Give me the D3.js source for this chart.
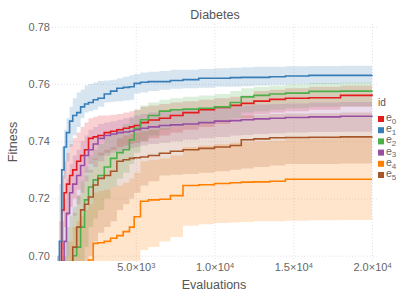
<!DOCTYPE html>
<html>
<head>
<meta charset="utf-8">
<script src="https://cdn.jsdelivr.net/npm/d3@7"></script>
<style>
  body { margin: 0; background: #fff; }
  text { font-family: "Liberation Sans", Arial, sans-serif; }
</style>
</head>
<body>
<svg width="407" height="305"></svg>
<script>
// evaluation checkpoints (shared by every run)
const evals = [0, 150, 300, 450, 600, 800, 1000, 1250, 1500, 1750, 2000, 2300, 2600, 3000, 3400, 3800, 4200,
  4600, 4900, 5300, 5800, 6500, 7200, 8000, 9000, 10000, 11000, 11700, 12500, 13500, 14500, 16000, 18000, 20000];

// e0 (red)
const e0Mean = [0.68, 0.695, 0.716, 0.722, 0.725, 0.728, 0.730, 0.733, 0.735, 0.737, 0.741, 0.7415, 0.742, 0.743, 0.7435, 0.744, 0.7445,
  0.745, 0.7455, 0.7465, 0.7474, 0.748, 0.749, 0.750, 0.751, 0.7518, 0.7525, 0.7532, 0.754, 0.7546, 0.755, 0.7552, 0.756, 0.7564];
const e0Hi = [0.70, 0.712, 0.728, 0.733, 0.736, 0.739, 0.741, 0.743, 0.745, 0.7465, 0.748, 0.7485, 0.749, 0.749, 0.7492, 0.7495, 0.750,
  0.7505, 0.751, 0.752, 0.7525, 0.753, 0.7535, 0.754, 0.7545, 0.755, 0.7555, 0.756, 0.7575, 0.758, 0.7585, 0.759, 0.7595, 0.760];
const e0Lo = [0.66, 0.678, 0.702, 0.710, 0.714, 0.717, 0.720, 0.723, 0.726, 0.729, 0.732, 0.7335, 0.735, 0.736, 0.737, 0.738, 0.7385,
  0.739, 0.7395, 0.740, 0.741, 0.742, 0.743, 0.744, 0.745, 0.746, 0.747, 0.748, 0.7495, 0.750, 0.7505, 0.751, 0.752, 0.7525];

// e1 (blue)
const e1Mean = [0.68, 0.705, 0.730, 0.738, 0.743, 0.747, 0.749, 0.750, 0.752, 0.753, 0.7535, 0.7545, 0.755, 0.7565, 0.7575, 0.7585, 0.7588,
  0.759, 0.7602, 0.7606, 0.7608, 0.7608, 0.7612, 0.7615, 0.762, 0.762, 0.7622, 0.7623, 0.7623, 0.7625, 0.7628, 0.763, 0.763, 0.7631];
const e1Hi = [0.70, 0.725, 0.738, 0.744, 0.748, 0.752, 0.755, 0.757, 0.758, 0.7595, 0.760, 0.7605, 0.761, 0.7612, 0.7615, 0.762, 0.7625,
  0.763, 0.7635, 0.764, 0.7643, 0.7645, 0.765, 0.765, 0.7652, 0.7655, 0.7657, 0.7658, 0.766, 0.766, 0.7662, 0.7663, 0.7664, 0.7665];
const e1Lo = [0.66, 0.685, 0.715, 0.727, 0.733, 0.738, 0.742, 0.745, 0.748, 0.750, 0.7505, 0.751, 0.752, 0.7535, 0.7538, 0.754, 0.7542,
  0.7545, 0.7567, 0.757, 0.7575, 0.758, 0.7583, 0.7585, 0.7587, 0.759, 0.759, 0.7592, 0.7595, 0.7597, 0.760, 0.760, 0.7602, 0.7603];

// e2 (green)
const e2Mean = [0.67, 0.675, 0.68, 0.686, 0.693, 0.698, 0.700, 0.703, 0.710, 0.7195, 0.724, 0.7265, 0.728, 0.731, 0.734, 0.736, 0.737,
  0.7405, 0.7445, 0.7475, 0.749, 0.7505, 0.751, 0.7512, 0.7515, 0.752, 0.7535, 0.7555, 0.756, 0.7565, 0.7568, 0.7574, 0.7575, 0.7577];
const e2Hi = [0.69, 0.695, 0.70, 0.705, 0.710, 0.714, 0.717, 0.721, 0.726, 0.731, 0.735, 0.737, 0.739, 0.7415, 0.743, 0.7445, 0.746,
  0.748, 0.751, 0.7525, 0.7535, 0.7545, 0.755, 0.7555, 0.756, 0.7565, 0.7575, 0.7585, 0.759, 0.7595, 0.760, 0.7603, 0.7605, 0.7607];
const e2Lo = [0.65, 0.655, 0.66, 0.665, 0.672, 0.680, 0.684, 0.688, 0.694, 0.703, 0.710, 0.713, 0.716, 0.720, 0.724, 0.727, 0.729,
  0.732, 0.736, 0.740, 0.742, 0.744, 0.745, 0.7455, 0.746, 0.7465, 0.748, 0.750, 0.7505, 0.751, 0.7515, 0.752, 0.7522, 0.7525];

// e3 (purple)
const e3Mean = [0.68, 0.688, 0.698, 0.705, 0.7148, 0.722, 0.725, 0.728, 0.7315, 0.735, 0.737, 0.739, 0.741, 0.742, 0.7425, 0.743, 0.7432,
  0.7435, 0.744, 0.7445, 0.745, 0.7455, 0.7457, 0.746, 0.7465, 0.747, 0.7472, 0.7475, 0.7478, 0.748, 0.7483, 0.7485, 0.7487, 0.7489];
const e3Hi = [0.695, 0.705, 0.712, 0.72, 0.727, 0.732, 0.735, 0.737, 0.740, 0.742, 0.744, 0.745, 0.746, 0.7465, 0.747, 0.7475, 0.748,
  0.7485, 0.749, 0.7495, 0.750, 0.7505, 0.751, 0.7512, 0.7515, 0.752, 0.7522, 0.7525, 0.7528, 0.753, 0.7532, 0.7535, 0.7537, 0.754];
const e3Lo = [0.66, 0.67, 0.682, 0.69, 0.70, 0.710, 0.714, 0.718, 0.722, 0.726, 0.729, 0.731, 0.733, 0.735, 0.736, 0.7365, 0.737,
  0.7375, 0.738, 0.7385, 0.739, 0.7395, 0.740, 0.7405, 0.741, 0.7415, 0.742, 0.7422, 0.7425, 0.7428, 0.743, 0.7432, 0.7433, 0.7435];

// e4 (orange)
const e4Mean = [0.66, 0.665, 0.67, 0.675, 0.68, 0.685, 0.69, 0.693, 0.695, 0.697, 0.6985, 0.7043, 0.7045, 0.705, 0.7061, 0.707, 0.7084,
  0.710, 0.7136, 0.719, 0.7195, 0.7197, 0.721, 0.7245, 0.7248, 0.7252, 0.7255, 0.7257, 0.7258, 0.726, 0.7267, 0.7267, 0.7267, 0.7267];
const e4Hi = [0.68, 0.685, 0.69, 0.695, 0.70, 0.705, 0.71, 0.712, 0.714, 0.716, 0.718, 0.722, 0.7225, 0.723, 0.724, 0.7245, 0.7255,
  0.727, 0.729, 0.733, 0.7335, 0.734, 0.735, 0.738, 0.7385, 0.739, 0.7395, 0.7398, 0.740, 0.7402, 0.741, 0.741, 0.7412, 0.7412];
const e4Lo = [0.64, 0.645, 0.65, 0.655, 0.66, 0.665, 0.67, 0.674, 0.676, 0.678, 0.68, 0.686, 0.687, 0.688, 0.689, 0.69, 0.691,
  0.693, 0.695, 0.702, 0.703, 0.705, 0.7065, 0.7105, 0.711, 0.7114, 0.7116, 0.7118, 0.712, 0.712, 0.7122, 0.7124, 0.7125, 0.7125];

// e5 (brown)
const e5Mean = [0.67, 0.675, 0.68, 0.686, 0.692, 0.697, 0.703, 0.710, 0.716, 0.718, 0.7205, 0.7247, 0.727, 0.728, 0.7295, 0.733, 0.7335,
  0.734, 0.7342, 0.7345, 0.735, 0.7358, 0.7365, 0.737, 0.7375, 0.738, 0.7385, 0.7405, 0.7408, 0.7412, 0.7413, 0.7414, 0.7415, 0.7416];
const e5Hi = [0.685, 0.69, 0.695, 0.70, 0.705, 0.710, 0.715, 0.721, 0.726, 0.728, 0.730, 0.734, 0.736, 0.737, 0.738, 0.741, 0.742,
  0.7425, 0.743, 0.7435, 0.744, 0.7445, 0.745, 0.7455, 0.746, 0.7465, 0.747, 0.749, 0.7492, 0.7495, 0.7497, 0.7498, 0.750, 0.750];
const e5Lo = [0.65, 0.655, 0.66, 0.665, 0.67, 0.675, 0.68, 0.687, 0.693, 0.697, 0.700, 0.705, 0.708, 0.71, 0.712, 0.716, 0.718,
  0.72, 0.722, 0.7245, 0.726, 0.728, 0.7283, 0.7285, 0.729, 0.7295, 0.730, 0.7305, 0.731, 0.7315, 0.732, 0.732, 0.7322, 0.7323];

const ids = ['0', '1', '2', '3', '4', '5'];
const colors = ['#e41a1c', '#377eb8', '#4daf4a', '#984ea3', '#ff7f00', '#a65628'];
const xTicks = [5000, 10000, 15000, 20000];
const yTicks = [0.70, 0.72, 0.74, 0.76, 0.78];

const runs = [
  [e0Mean, e0Lo, e0Hi], [e1Mean, e1Lo, e1Hi], [e2Mean, e2Lo, e2Hi],
  [e3Mean, e3Lo, e3Hi], [e4Mean, e4Lo, e4Hi], [e5Mean, e5Lo, e5Hi]
].map((r, k) => ({
  id: ids[k],
  color: colors[k],
  pts: evals.map((e, i) => ({ e: e, m: r[0][i], lo: r[1][i], hi: r[2][i] }))
}));

const svg = d3.select('svg');
const x = d3.scaleLinear().domain([0, 20000]).range([57, 372]);
const y = d3.scaleLinear().domain([0.70, 0.78]).range([255.7, 26.7]);

const tickCol = '#666666';
const titleCol = '#555555';

// grid + y axis
const yAx = svg.append('g')
  .attr('transform', 'translate(52,0)')
  .call(d3.axisLeft(y).tickValues(yTicks).tickFormat(d3.format('.2f')).tickSize(-325).tickPadding(2));
// x axis
const xAx = svg.append('g')
  .attr('transform', 'translate(0,262)')
  .call(d3.axisBottom(x).tickValues(xTicks).tickSize(-240).tickPadding(1.5).tickFormat(''));

[yAx, xAx].forEach(g => {
  g.select('.domain').remove();
  g.selectAll('line').attr('stroke', '#d0d0e0').attr('stroke-width', 0.6).attr('stroke-dasharray', '1,2');
  g.selectAll('text').attr('fill', tickCol).attr('font-size', 11);
});

// x tick labels like 5.0×10³
xAx.selectAll('.tick text').each(function (d) {
  const parts = d3.format('.1e')(d).split('e');
  const t = d3.select(this).attr('font-family', '"Liberation Sans", Arial, sans-serif');
  t.append('tspan').text(parts[0] + '×10');
  t.append('tspan').attr('font-size', 7.5).attr('dy', '-0.45em').text(+parts[1]);
});

svg.append('defs').append('clipPath').attr('id', 'clip')
  .append('rect').attr('x', 57).attr('y', 20).attr('width', 316).attr('height', 241);

const plot = svg.append('g').attr('clip-path', 'url(#clip)');

const band = d3.area().curve(d3.curveStepAfter)
  .x(d => x(d.e)).y0(d => y(d.lo)).y1(d => y(d.hi));
const line = d3.line().curve(d3.curveStepAfter)
  .x(d => x(d.e)).y(d => y(d.m));

plot.selectAll('path.band')
  .data(runs)
  .enter()
  .append('path')
  .attr('class', 'band')
  .attr('d', d => band(d.pts))
  .attr('fill', d => d.color)
  .attr('fill-opacity', 0.2);

plot.selectAll('path.line')
  .data(runs)
  .enter()
  .append('path')
  .attr('class', 'line')
  .attr('d', d => line(d.pts))
  .attr('fill', 'none')
  .attr('stroke', d => d.color)
  .attr('stroke-width', 1.6);

// titles
svg.append('text').attr('x', 215).attr('y', 19).attr('text-anchor', 'middle')
  .attr('font-size', 12.5).attr('fill', titleCol).text('Diabetes');
svg.append('text').attr('x', 214).attr('y', 289).attr('text-anchor', 'middle')
  .attr('font-size', 12.5).attr('fill', titleCol).text('Evaluations');
svg.append('text').attr('transform', 'translate(17,142) rotate(-90)').attr('text-anchor', 'middle')
  .attr('font-size', 12.5).attr('fill', titleCol).text('Fitness');

// legend
const leg = svg.append('g').attr('transform', 'translate(378,0)');
leg.append('text').attr('x', 0).attr('y', 106).attr('font-size', 10).attr('fill', titleCol).text('id');
const item = leg.selectAll('g.item')
  .data(runs)
  .enter()
  .append('g')
  .attr('transform', (d, i) => `translate(0,${119 + i * 11.2})`);
item.append('rect').attr('x', 0).attr('y', -3).attr('width', 6).attr('height', 6).attr('fill', d => d.color);
const lt = item.append('text').attr('x', 8).attr('y', 2).attr('font-size', 10.5).attr('fill', tickCol);
lt.append('tspan').text('e');
lt.append('tspan').attr('font-size', 8).attr('dy', '0.35em').text(d => d.id);
</script>
</body>
</html>
